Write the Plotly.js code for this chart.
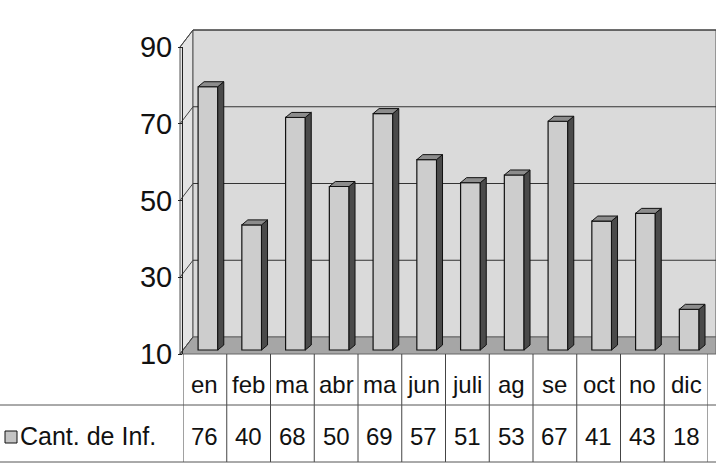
<!DOCTYPE html>
<html>
<head>
<meta charset="utf-8">
<script src="https://cdn.plot.ly/plotly-3.0.1.min.js"></script>
<style>html,body{margin:0;padding:0;background:#fff}#chart{width:716px;height:470px}</style>
</head>
<body>
<div id="chart"></div>
<script>
// ---- data ----
const months = ["en","feb","ma","abr","ma","jun","juli","ag","se","oct","no","dic"];
const values = [76, 40, 68, 50, 69, 57, 51, 53, 67, 41, 43, 18];
const seriesName = "Cant. de Inf.";
const yTicks = [10, 30, 50, 70, 90];

// ---- geometry helpers (pixel layout) ----
const W = 716, H = 470;
const M = {l: 183, r: 8, t: 47, b: 116};
const PW = W - M.l - M.r, PH = H - M.t - M.b;
const yMin = 10, yMax = 90;
const pxPerUnit = PH / (yMax - yMin);
const px2paperX = p => (p - M.l) / PW;
const px2paperY = p => (H - M.b - p) / PH;
const depthX = 13, depthY = 17;            // back-wall offset in px
const dxWall = depthX / PW, dyWall = depthY / PH;
const barDepthPx = 14;                     // bars sit near the back plane
const dU = barDepthPx / pxPerUnit;
const barBase = yMin - dU + 4 / pxPerUnit;
const barW = 0.45;
const barShift = 0.07;
const unitPx = PW / months.length;
const bdx = 6 / unitPx;                    // bar side depth in x units
const bdy = 5 / pxPerUnit;                 // bar top depth in y units

const xs = months.map((m, i) => i);
const font = '"Liberation Sans", Arial, sans-serif';

const shapes = [];
const annotations = [];
const x0p = px2paperX(180), xRight = px2paperX(716);

// left wall
shapes.push({type:'path', xref:'paper', yref:'paper', layer:'below',
  path:`M ${x0p} 0 L ${x0p} 1 L ${x0p+dxWall} ${1+dyWall} L ${x0p+dxWall} ${dyWall} Z`,
  fillcolor:'#e4e4e4', line:{color:'#555', width:1}});
// back wall
shapes.push({type:'rect', xref:'paper', yref:'paper', layer:'below',
  x0: x0p+dxWall, x1: xRight, y0: dyWall, y1: 1+dyWall,
  fillcolor:'#dadada', line:{color:'#555', width:1}});
// floor
shapes.push({type:'path', xref:'paper', yref:'paper', layer:'below',
  path:`M ${x0p} 0 L ${xRight} 0 L ${xRight} ${dyWall} L ${x0p+dxWall} ${dyWall} Z`,
  fillcolor:'#a6a6a6', line:{color:'#666', width:1}});
// gridlines on back wall + diagonal connectors
yTicks.forEach(v => {
  const f = (v - yMin) / (yMax - yMin);
  if (v > yMin) {
    shapes.push({type:'line', xref:'paper', yref:'paper', layer:'below',
      x0: x0p+dxWall, x1: xRight, y0: f+dyWall, y1: f+dyWall, line:{color:'#333', width:1}});
  }
  shapes.push({type:'line', xref:'paper', yref:'paper', layer:'below',
    x0: x0p, x1: x0p+dxWall, y0: f, y1: f+dyWall, line:{color:'#444', width:1}});
});

// bar side and top faces
values.forEach((v, i) => {
  const l = i - barW/2 + barShift, r = l + barW;
  shapes.push({type:'path', xref:'x', yref:'y2',
    path:`M ${r} ${barBase} L ${r} ${v} L ${r+bdx} ${v+bdy} L ${r+bdx} ${barBase+bdy} Z`,
    fillcolor:'#4a4a4a', line:{color:'#111', width:1}});
  shapes.push({type:'path', xref:'x', yref:'y2',
    path:`M ${l} ${v} L ${r} ${v} L ${r+bdx} ${v+bdy} L ${l+bdx} ${v+bdy} Z`,
    fillcolor:'#8c8c8c', line:{color:'#111', width:1}});
});

// data table
const rowMid = px2paperY(405), rowBot = px2paperY(462);
const yLab = px2paperY(384), yVal = px2paperY(436);
for (let i = 0; i <= months.length; i++) {
  shapes.push({type:'line', xref:'x', yref:'paper', x0: i-0.5, x1: i-0.5, y0: 0, y1: rowBot,
    line:{color:'#444', width:1}});
}
shapes.push({type:'line', xref:'paper', yref:'paper', x0: px2paperX(0), x1: xRight, y0: rowMid, y1: rowMid,
  line:{color:'#555', width:1}});
shapes.push({type:'line', xref:'paper', yref:'paper', x0: px2paperX(0), x1: xRight, y0: rowBot, y1: rowBot,
  line:{color:'#555', width:1}});
months.forEach((m, i) => {
  annotations.push({xref:'x', yref:'paper', x: i, y: yLab, xanchor:'center', yanchor:'middle',
    text: m, showarrow:false, font:{family:font, size:24, color:'#111'}});
  annotations.push({xref:'x', yref:'paper', x: i, y: yVal, xanchor:'center', yanchor:'middle',
    text: String(values[i]), showarrow:false, font:{family:font, size:24, color:'#111'}});
});
// legend key
shapes.push({type:'rect', xref:'paper', yref:'paper',
  x0: px2paperX(5), x1: px2paperX(17), y0: px2paperY(443), y1: px2paperY(431),
  fillcolor:'#c4c4c4', line:{color:'#111', width:1}});
annotations.push({xref:'paper', yref:'paper', x: px2paperX(18), y: yVal, xanchor:'left', yanchor:'middle',
  text: seriesName, showarrow:false, font:{family:font, size:25, color:'#111'}});

// empty trace so the visible value axis (front plane) is drawn
const axisTrace = {type:'scatter', x:[], y:[], xaxis:'x', yaxis:'y', hoverinfo:'skip', showlegend:false};
const trace = {
  type:'bar', x: xs, y: values.map(v => v - barBase), base: barBase, yaxis:'y2',
  name: seriesName, width: barW,
  offset: -barW/2 + barShift,
  marker:{color:'#cdcdcd', line:{color:'#111', width:1.2}},
  hoverinfo:'x+y'
};

const layout = {
  width: W, height: H,
  margin: M,
  paper_bgcolor:'#fff', plot_bgcolor:'rgba(0,0,0,0)',
  showlegend:false,
  xaxis:{range:[-0.5, months.length-0.5], showticklabels:false, showgrid:false, zeroline:false,
    showline:false, ticks:''},
  yaxis:{range:[yMin, yMax], tickvals: yTicks, showgrid:false, zeroline:false,
    showline:true, linecolor:'#222', linewidth:1, ticks:'outside', ticklen:4, tickcolor:'#222',
    tickfont:{family:font, size:29, color:'#111'}},
  yaxis2:{overlaying:'y', range:[yMin - dU, yMax - dU], visible:false, showgrid:false, zeroline:false},
  shapes, annotations
};

Plotly.newPlot('chart', [axisTrace, trace], layout, {displayModeBar:false, staticPlot:true});
</script>
</body>
</html>
